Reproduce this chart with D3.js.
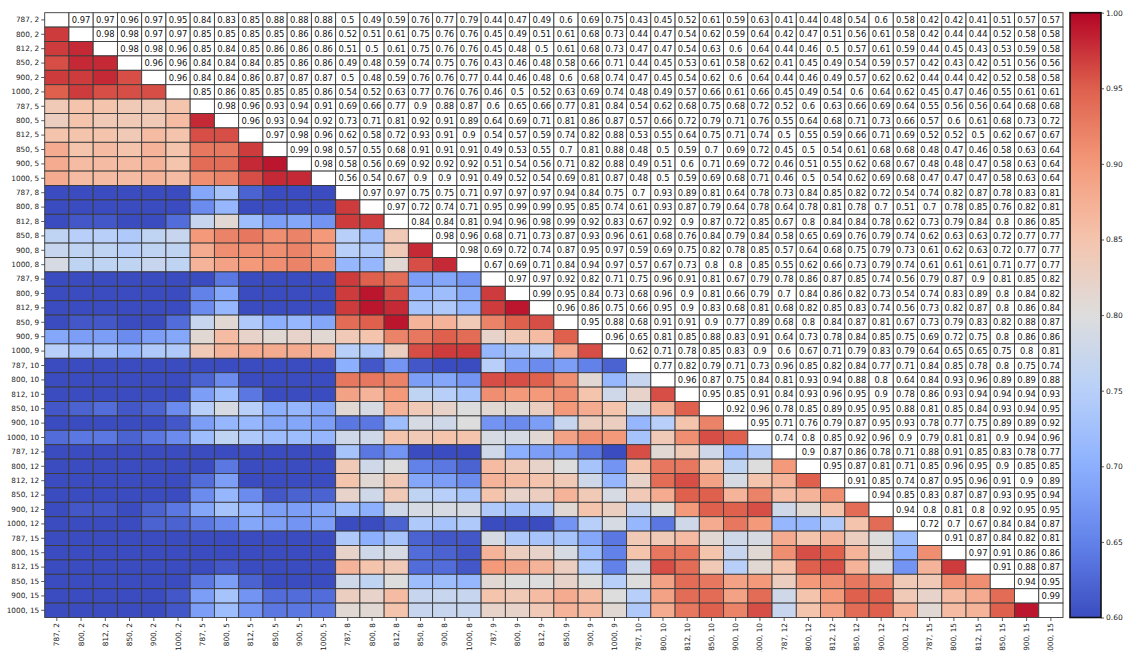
<!DOCTYPE html>
<html>
<head>
<meta charset="utf-8">
<script src="https://cdn.jsdelivr.net/npm/d3@7/dist/d3.min.js"></script>
<style>
  html, body { margin: 0; padding: 0; background: #fff; }
  svg { display: block; font-family: "DejaVu Sans", sans-serif; }
</style>
</head>
<body>
<svg id="chart" width="1128" height="652"></svg>
<script>
// Configurations: frame size x window length
const sizes = [787, 800, 812, 850, 900, 1000];
const windows = [2, 5, 8, 9, 10, 12, 15];
const labels = windows.flatMap(w => sizes.map(s => `${s}, ${w}`));

// Upper triangle of the similarity matrix: row i holds columns i+1 .. 41
const upperRows = [
  [0.97,0.97,0.96,0.97,0.95,0.84,0.83,0.85,0.88,0.88,0.88,0.5,0.49,0.59,0.76,0.77,0.79,0.44,0.47,0.49,0.6,0.69,0.75,0.43,0.45,0.52,0.61,0.59,0.63,0.41,0.44,0.48,0.54,0.6,0.58,0.42,0.42,0.41,0.51,0.57,0.57],
  [0.98,0.98,0.97,0.97,0.85,0.85,0.85,0.85,0.86,0.86,0.52,0.51,0.61,0.75,0.76,0.76,0.45,0.49,0.51,0.61,0.68,0.73,0.44,0.47,0.54,0.62,0.59,0.64,0.42,0.47,0.51,0.56,0.61,0.58,0.42,0.44,0.44,0.52,0.58,0.58],
  [0.98,0.98,0.96,0.85,0.84,0.85,0.86,0.86,0.86,0.51,0.5,0.61,0.75,0.76,0.76,0.45,0.48,0.5,0.61,0.68,0.73,0.47,0.47,0.54,0.63,0.6,0.64,0.44,0.46,0.5,0.57,0.61,0.59,0.44,0.45,0.43,0.53,0.59,0.58],
  [0.96,0.96,0.84,0.84,0.84,0.85,0.86,0.86,0.49,0.48,0.59,0.74,0.75,0.76,0.43,0.46,0.48,0.58,0.66,0.71,0.44,0.45,0.53,0.61,0.58,0.62,0.41,0.45,0.49,0.54,0.59,0.57,0.42,0.43,0.42,0.51,0.56,0.56],
  [0.96,0.84,0.84,0.86,0.87,0.87,0.87,0.5,0.48,0.59,0.76,0.76,0.77,0.44,0.46,0.48,0.6,0.68,0.74,0.47,0.45,0.54,0.62,0.6,0.64,0.44,0.46,0.49,0.57,0.62,0.62,0.44,0.44,0.42,0.52,0.58,0.58],
  [0.85,0.86,0.85,0.85,0.85,0.86,0.54,0.52,0.63,0.77,0.76,0.76,0.46,0.5,0.52,0.63,0.69,0.74,0.48,0.49,0.57,0.66,0.61,0.66,0.45,0.49,0.54,0.6,0.64,0.62,0.45,0.47,0.46,0.55,0.61,0.61],
  [0.98,0.96,0.93,0.94,0.91,0.69,0.66,0.77,0.9,0.88,0.87,0.6,0.65,0.66,0.77,0.81,0.84,0.54,0.62,0.68,0.75,0.68,0.72,0.52,0.6,0.63,0.66,0.69,0.64,0.55,0.56,0.56,0.64,0.68,0.68],
  [0.96,0.93,0.94,0.92,0.73,0.71,0.81,0.92,0.91,0.89,0.64,0.69,0.71,0.81,0.86,0.87,0.57,0.66,0.72,0.79,0.71,0.76,0.55,0.64,0.68,0.71,0.73,0.66,0.57,0.6,0.61,0.68,0.73,0.72],
  [0.97,0.98,0.96,0.62,0.58,0.72,0.93,0.91,0.9,0.54,0.57,0.59,0.74,0.82,0.88,0.53,0.55,0.64,0.75,0.71,0.74,0.5,0.55,0.59,0.66,0.71,0.69,0.52,0.52,0.5,0.62,0.67,0.67],
  [0.99,0.98,0.57,0.55,0.68,0.91,0.91,0.91,0.49,0.53,0.55,0.7,0.81,0.88,0.48,0.5,0.59,0.7,0.69,0.72,0.45,0.5,0.54,0.61,0.68,0.68,0.48,0.47,0.46,0.58,0.63,0.64],
  [0.98,0.58,0.56,0.69,0.92,0.92,0.92,0.51,0.54,0.56,0.71,0.82,0.88,0.49,0.51,0.6,0.71,0.69,0.72,0.46,0.51,0.55,0.62,0.68,0.67,0.48,0.48,0.47,0.58,0.63,0.64],
  [0.56,0.54,0.67,0.9,0.9,0.91,0.49,0.52,0.54,0.69,0.81,0.87,0.48,0.5,0.59,0.69,0.68,0.71,0.46,0.5,0.54,0.62,0.69,0.68,0.47,0.47,0.47,0.58,0.63,0.64],
  [0.97,0.97,0.75,0.75,0.71,0.97,0.97,0.97,0.94,0.84,0.75,0.7,0.93,0.89,0.81,0.64,0.78,0.73,0.84,0.85,0.82,0.72,0.54,0.74,0.82,0.87,0.78,0.83,0.81],
  [0.97,0.72,0.74,0.71,0.95,0.99,0.99,0.95,0.85,0.74,0.61,0.93,0.87,0.79,0.64,0.78,0.64,0.78,0.81,0.78,0.7,0.51,0.7,0.78,0.85,0.76,0.82,0.81],
  [0.84,0.84,0.81,0.94,0.96,0.98,0.99,0.92,0.83,0.67,0.92,0.9,0.87,0.72,0.85,0.67,0.8,0.84,0.84,0.78,0.62,0.73,0.79,0.84,0.8,0.86,0.85],
  [0.98,0.96,0.68,0.71,0.73,0.87,0.93,0.96,0.61,0.68,0.76,0.84,0.79,0.84,0.58,0.65,0.69,0.76,0.79,0.74,0.62,0.63,0.63,0.72,0.77,0.77],
  [0.98,0.69,0.72,0.74,0.87,0.95,0.97,0.59,0.69,0.75,0.82,0.78,0.85,0.57,0.64,0.68,0.75,0.79,0.73,0.61,0.62,0.63,0.72,0.77,0.77],
  [0.67,0.69,0.71,0.84,0.94,0.97,0.57,0.67,0.73,0.8,0.8,0.85,0.55,0.62,0.66,0.73,0.79,0.74,0.61,0.61,0.61,0.71,0.77,0.77],
  [0.97,0.97,0.92,0.82,0.71,0.75,0.96,0.91,0.81,0.67,0.79,0.78,0.86,0.87,0.85,0.74,0.56,0.79,0.87,0.9,0.81,0.85,0.82],
  [0.99,0.95,0.84,0.73,0.68,0.96,0.9,0.81,0.66,0.79,0.7,0.84,0.86,0.82,0.73,0.54,0.74,0.83,0.89,0.8,0.84,0.82],
  [0.96,0.86,0.75,0.66,0.95,0.9,0.83,0.68,0.81,0.68,0.82,0.85,0.83,0.74,0.56,0.73,0.82,0.87,0.8,0.86,0.84],
  [0.95,0.88,0.68,0.91,0.91,0.9,0.77,0.89,0.68,0.8,0.84,0.87,0.81,0.67,0.73,0.79,0.83,0.82,0.88,0.87],
  [0.96,0.65,0.81,0.85,0.88,0.83,0.91,0.64,0.73,0.78,0.84,0.85,0.75,0.69,0.72,0.75,0.8,0.86,0.86],
  [0.62,0.71,0.78,0.85,0.83,0.9,0.6,0.67,0.71,0.79,0.83,0.79,0.64,0.65,0.65,0.75,0.8,0.81],
  [0.77,0.82,0.79,0.71,0.73,0.96,0.85,0.82,0.84,0.77,0.71,0.84,0.85,0.78,0.8,0.75,0.74],
  [0.96,0.87,0.75,0.84,0.81,0.93,0.94,0.88,0.8,0.64,0.84,0.93,0.96,0.89,0.89,0.88],
  [0.95,0.85,0.91,0.84,0.93,0.96,0.95,0.9,0.78,0.86,0.93,0.94,0.94,0.94,0.93],
  [0.92,0.96,0.78,0.85,0.89,0.95,0.95,0.88,0.81,0.85,0.84,0.93,0.94,0.95],
  [0.95,0.71,0.76,0.79,0.87,0.95,0.93,0.78,0.77,0.75,0.89,0.89,0.92],
  [0.74,0.8,0.85,0.92,0.96,0.9,0.79,0.81,0.81,0.9,0.94,0.96],
  [0.9,0.87,0.86,0.78,0.71,0.88,0.91,0.85,0.83,0.78,0.77],
  [0.95,0.87,0.81,0.71,0.85,0.96,0.95,0.9,0.85,0.85],
  [0.91,0.85,0.74,0.87,0.95,0.96,0.91,0.9,0.89],
  [0.94,0.85,0.83,0.87,0.87,0.93,0.95,0.94],
  [0.94,0.8,0.81,0.8,0.92,0.95,0.95],
  [0.72,0.7,0.67,0.84,0.84,0.87],
  [0.91,0.87,0.84,0.82,0.81],
  [0.97,0.91,0.86,0.86],
  [0.91,0.88,0.87],
  [0.94,0.95],
  [0.99],
  []
];

const colorTicks = [0.60, 0.65, 0.70, 0.75, 0.80, 0.85, 0.90, 0.95, 1.00];
const vmin = 0.6, vmax = 1.0;

// Diverging cool-warm palette control colours
const coolwarmStops = ["#3b4cc0", "#6282ea", "#8db0fe", "#b8d0f9", "#dddddd",
                       "#f5c4ad", "#f49a7b", "#de604d", "#b40426"];
const coolwarm = d3.piecewise(d3.interpolateRgb, coolwarmStops);

// Build the full cell list (symmetric matrix)
const n = labels.length;
const value = (i, j) => (i < j ? upperRows[i][j - i - 1] : upperRows[j][i - j - 1]);
const cells = [];
for (let i = 0; i < n; i++) {
  for (let j = 0; j < n; j++) {
    cells.push({ row: i, col: j, v: i === j ? null : value(i, j), upper: j > i });
  }
}

const svg = d3.select("#chart");
const plotLeft = 44.7, plotRight = 1063, plotTop = 12.7, plotBottom = 617.5;

const x = d3.scaleBand().domain(labels).range([plotLeft, plotRight]);
const y = d3.scaleBand().domain(labels).range([plotTop, plotBottom]);
const color = d3.scaleSequential(coolwarm).domain([vmin, vmax]).clamp(true);

const g = svg.append("g");

g.selectAll("rect.cell")
  .data(cells)
  .join("rect")
  .attr("class", "cell")
  .attr("x", d => x(labels[d.col]))
  .attr("y", d => y(labels[d.row]))
  .attr("width", x.bandwidth())
  .attr("height", y.bandwidth())
  .attr("fill", d => (d.v === null || d.upper) ? "#ffffff" : color(d.v))
  .attr("stroke", "#3a3a3a")
  .attr("stroke-width", 0.9);

g.selectAll("text.val")
  .data(cells.filter(d => d.upper))
  .join("text")
  .attr("class", "val")
  .attr("x", d => x(labels[d.col]) + x.bandwidth() / 2)
  .attr("y", d => y(labels[d.row]) + y.bandwidth() / 2)
  .attr("text-anchor", "middle")
  .attr("dy", "0.36em")
  .attr("font-size", "8.4px")
  .attr("fill", "#111")
  .text(d => String(d.v));

// Axes
const axisFont = "7.3px";
const yAxis = svg.append("g")
  .attr("transform", `translate(${plotLeft},0)`)
  .call(d3.axisLeft(y).tickSize(3.5).tickPadding(2));
yAxis.select(".domain").remove();
yAxis.selectAll("text").attr("font-size", axisFont).attr("font-family", "DejaVu Sans").attr("fill", "#222");
yAxis.selectAll("line").attr("stroke", "#333").attr("stroke-width", 0.8);

const xAxis = svg.append("g")
  .attr("transform", `translate(0,${plotBottom})`)
  .call(d3.axisBottom(x).tickSize(3.5).tickPadding(2));
xAxis.select(".domain").remove();
xAxis.selectAll("line").attr("stroke", "#333").attr("stroke-width", 0.8);
xAxis.selectAll("text")
  .attr("font-size", axisFont)
  .attr("font-family", "DejaVu Sans")
  .attr("fill", "#222")
  .attr("text-anchor", "end")
  .attr("transform", "rotate(-90)")
  .attr("x", -5.5)
  .attr("y", 0)
  .attr("dy", "0.35em");

// Colour bar
const cbX = 1070, cbW = 31;
const cbScale = d3.scaleLinear().domain([vmin, vmax]).range([plotBottom, plotTop]);
const defs = svg.append("defs");
const grad = defs.append("linearGradient")
  .attr("id", "cbgrad").attr("x1", 0).attr("y1", 1).attr("x2", 0).attr("y2", 0);
d3.range(0, 1.0001, 0.02).forEach(t => {
  grad.append("stop").attr("offset", t).attr("stop-color", coolwarm(t));
});
svg.append("rect")
  .attr("x", cbX).attr("y", plotTop)
  .attr("width", cbW).attr("height", plotBottom - plotTop)
  .attr("fill", "url(#cbgrad)")
  .attr("stroke", "#111").attr("stroke-width", 1.6);

const cbAxis = svg.append("g")
  .attr("transform", `translate(${cbX + cbW},0)`)
  .call(d3.axisRight(cbScale).tickValues(colorTicks).tickFormat(d3.format(".2f")).tickSize(3).tickPadding(2));
cbAxis.select(".domain").remove();
cbAxis.selectAll("text").attr("font-size", "7.5px").attr("font-family", "DejaVu Sans").attr("fill", "#222");
cbAxis.selectAll("line").attr("stroke", "#333").attr("stroke-width", 0.8);
</script>
</body>
</html>
